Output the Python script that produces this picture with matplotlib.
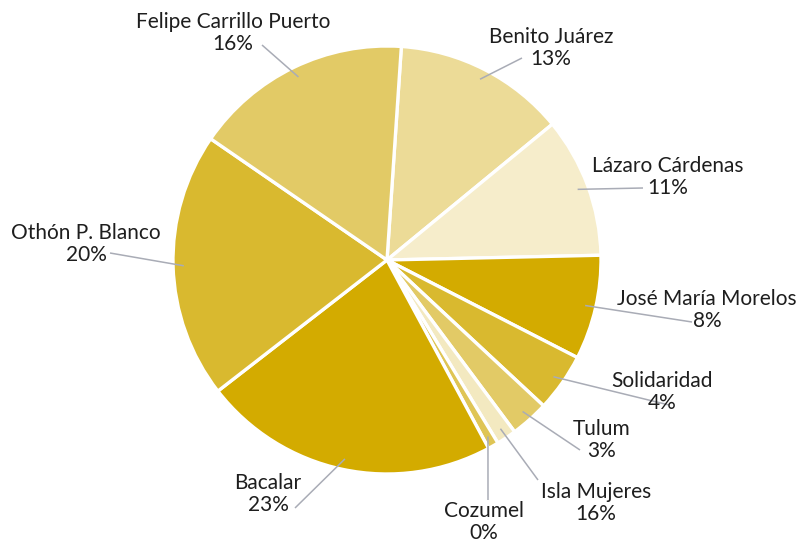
import matplotlib
matplotlib.use("Agg")
import matplotlib.pyplot as plt
import numpy as np

# ---- data (clockwise from top) ----
municipios = ["Benito Juárez", "Lázaro Cárdenas", "José María Morelos", "Solidaridad",
              "Tulum", "Isla Mujeres", "Cozumel", "Bacalar", "Othón P. Blanco",
              "Felipe Carrillo Puerto"]
shares = [13.0, 10.6, 7.9, 4.4, 2.9, 1.5, 0.8, 22.4, 20.1, 16.5]
pct_labels = ["13%", "11%", "8%", "4%", "3%", "16%", "0%", "23%", "20%", "16%"]
colors = ["#ecdb97", "#f6edcb", "#d3ab00", "#d9b92f", "#e2ca66",
          "#f3e9c0", "#dfc555", "#d3ab00", "#d9b92f", "#e2ca66"]

# ---- layout (pixel coordinates, y from top) ----
W, H = 809, 551
CX, CY, R = 387, 260, 214
label_pos = [(551, 48), (668, 177), (707, 310), (662, 392), (602, 440),
             (596, 503), (484, 522), (268, 494), (86, 244), (233, 33)]
line_end = [(522, 58), (643, 188), (692, 322), (669, 405), (580, 450),
            (538, 480), (488, 500), (295, 508), (110, 253), (262, 45)]

plt.rcParams['font.family'] = ['Lato', 'DejaVu Sans']
fig = plt.figure(figsize=(W / 100, H / 100), dpi=100)
ax = fig.add_axes([0, 0, 1, 1])
ax.set_xlim(0, W)
ax.set_ylim(0, H)
ax.set_aspect('equal')
ax.axis('off')

def fy(y):
    return H - y

wedges, _ = ax.pie(shares, colors=colors, startangle=86.15, counterclock=False,
                   center=(CX, fy(CY)), radius=R,
                   wedgeprops=dict(edgecolor='white', linewidth=2.4))
ax.set_xlim(0, W)
ax.set_ylim(0, H)

for w, name, pct, (lx, ly), (ex, ey) in zip(wedges, municipios, pct_labels, label_pos, line_end):
    mid = np.deg2rad((w.theta1 + w.theta2) / 2)
    sx = CX + 0.95 * R * np.cos(mid)
    sy = fy(CY) + 0.95 * R * np.sin(mid)
    ax.plot([sx, ex], [sy, fy(ey)], color='#a9acb6', lw=1.1, solid_capstyle='butt', zorder=3)
    ax.text(lx, fy(ly), f"{name}\n{pct}", ha='center', va='center', fontsize=15,
            color='#1e1e1e', linespacing=1.12, zorder=4)

fig.savefig("out.png", dpi=100)
